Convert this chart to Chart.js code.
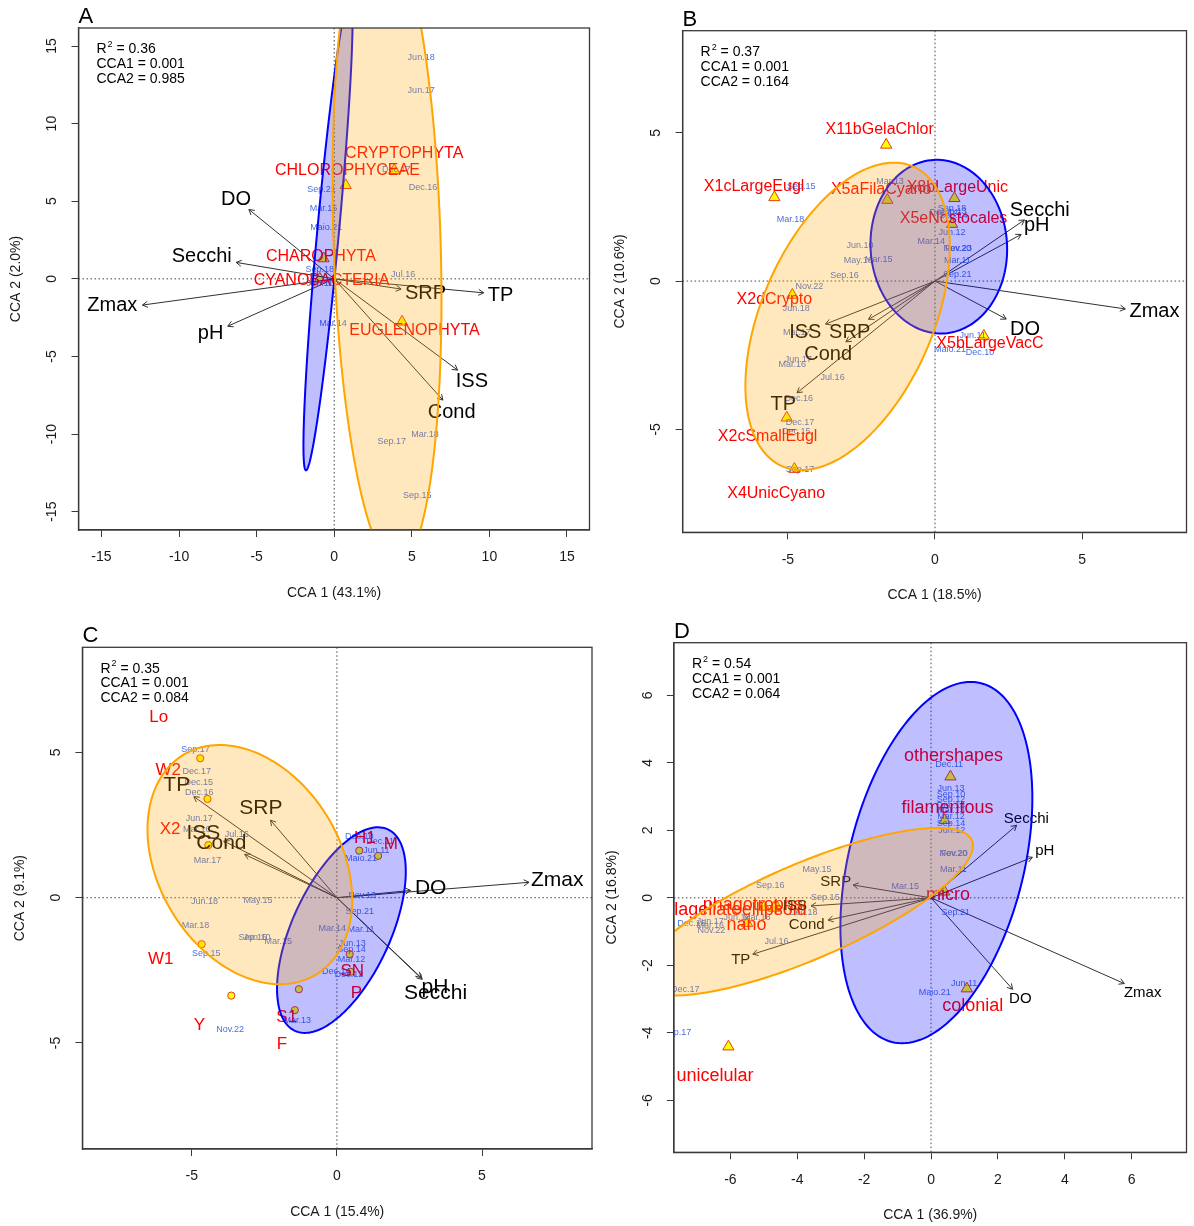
<!DOCTYPE html>
<html>
<head>
<meta charset="utf-8">
<script src="https://cdn.jsdelivr.net/npm/chart.js@4.4.1/dist/chart.umd.min.js"></script>
<style>
  body { margin: 0; background: #fff; }
  #wrap { position: relative; width: 1194px; height: 1226px; }
  canvas { position: absolute; }
</style>
</head>
<body>
<div id="wrap">
  <canvas id="cA" width="597" height="610" style="left:0;top:0"></canvas>
  <canvas id="cB" width="597" height="610" style="left:597px;top:0"></canvas>
  <canvas id="cC" width="597" height="613" style="left:0;top:613px"></canvas>
  <canvas id="cD" width="597" height="613" style="left:597px;top:613px"></canvas>
</div>
<script>
// ---------- Panel A ----------
const xTicksA = [-15, -10, -5, 0, 5, 10, 15];
const yTicksA = [-15, -10, -5, 0, 5, 10, 15];
const statsA = ['0.36', '0.001', '0.985'];
const envNamesA = ['DO', 'Secchi', 'Zmax', 'pH', 'SRP', 'TP', 'ISS', 'Cond'];
const envXA = [-5.5, -6.32, -12.36, -6.86, 4.31, 9.63, 7.95, 7.0];
const envYA = [4.47, 1.06, -1.69, -3.05, -0.66, -0.9, -5.88, -7.81];
const envLabXA = [-6.33, -8.54, -14.3, -7.97, 5.88, 10.72, 8.87, 7.57];
const envLabYA = [5.11, 1.42, -1.69, -3.52, -0.94, -1.05, -6.63, -8.6];
const sppNamesA = ['CRYPTOPHYTA', 'CHLOROPHYCEAE', 'CHAROPHYTA', 'CYANOBACTERIA', 'EUGLENOPHYTA'];
const sppXA = [3.87, 0.74, -0.69, -0.93, 4.37];
const sppYA = [7.0, 6.03, 1.31, 0.0, -2.77];
const sppLabXA = [4.51, 0.85, -0.86, -0.82, 5.17];
const sppLabYA = [8.07, 6.95, 1.42, -0.13, -3.35];
const sampNamesA = ['Jun.18', 'Jun.17', 'Dec.17', 'Dec.16', 'Sep.21', 'Mar.15', 'Maio.21', 'Jul.16',
  'Sep.18', 'Jun.11', 'Mar.14', 'Sep.17', 'Mar.18', 'Sep.15'];
const sampXA = [5.6, 5.6, 4.0, 5.72, -0.82, -0.69, -0.52, 4.44, -0.93, -0.93, -0.08, 3.7, 5.85, 5.35];
const sampYA = [14.27, 12.15, 7.06, 5.88, 5.75, 4.53, 3.31, 0.26, 0.62, -0.3, -2.87, -10.45, -10.06, -13.93];
const ellBlueA = [-0.4, 3, 15.4, 0.7, 84.7];     // cx, cy, a, b, angle
const ellOrangeA = [3.4, 2.5, 21, 3.45, 91.8];

// ---------- Panel B ----------
const xTicksB = [-5, 0, 5];
const yTicksB = [-5, 0, 5];
const statsB = ['0.37', '0.001', '0.164'];
const envNamesB = ['Secchi', 'pH', 'Zmax', 'DO', 'ISS', 'SRP', 'Cond', 'TP'];
const envXB = [3.04, 2.93, 6.47, 2.42, -3.72, -2.26, -3.03, -4.69];
const envYB = [2.06, 1.57, -0.94, -1.28, -1.45, -1.29, -2.05, -3.77];
const envLabXB = [3.56, 3.46, 7.46, 3.06, -4.41, -2.9, -3.63, -5.16];
const envLabYB = [2.37, 1.89, -1.01, -1.63, -1.74, -1.74, -2.46, -4.15];
const sppNamesB = ['X11bGelaChlor', 'X1cLargeEugl', 'X5aFilaCyano', 'X8bLargeUnic', 'X5eNostocales',
  'X2dCrypto', 'X5bLargeVacC', 'X2cSmallEugl', 'X4UnicCyano'];
const sppXB = [-1.66, -5.46, -1.62, 0.66, 0.58, -4.85, 1.66, -5.04, -4.78];
const sppYB = [4.59, 2.82, 2.73, 2.79, 1.92, -0.47, -1.85, -4.61, -6.34];
const sppLabXB = [-1.88, -6.15, -1.83, 0.76, 0.63, -5.46, 1.87, -5.69, -5.4];
const sppLabYB = [5.12, 3.18, 3.07, 3.15, 2.11, -0.62, -2.1, -5.23, -7.18];
const sampNamesB = ['Sep.15', 'Mar.18', 'Mar.13', 'Jun.10', 'May.16', 'Mar.15', 'Sep.16', 'Nov.22', 'Mar.14',
  'Sep.18', 'Jun.13', 'Dec.14', 'Sep.14', 'Jun.12', 'Nov.20', 'Fev.23', 'Mar.11', 'Sep.21',
  'Jun.18', 'Mar.17', 'Jun.17', 'Mar.16', 'Jul.16', 'Dec.16', 'Dec.17', 'Dec.15', 'Sep.17',
  'Jun.11', 'Maio.21', 'Dec.10'];
const sampXB = [-4.55, -4.91, -1.53, -2.55, -2.61, -1.91, -3.08, -4.27, -0.13,
  0.58, 0.62, 0.3, 0.62, 0.58, 0.76, 0.8, 0.76, 0.76,
  -4.72, -4.7, -4.65, -4.85, -3.48, -4.63, -4.59, -4.72, -4.59,
  1.28, 0.51, 1.53];
const sampYB = [3.18, 2.09, 3.35, 1.19, 0.68, 0.73, 0.17, -0.19, 1.34,
  2.45, 2.35, 2.3, 2.2, 1.64, 1.1, 1.1, 0.68, 0.22,
  -0.94, -1.74, -2.64, -2.83, -3.25, -3.96, -4.78, -5.08, -6.35,
  -1.85, -2.3, -2.42];
const ellBlueB = [0.13, 1.16, 2.93, 2.32, 93.7];
const ellOrangeB = [-2.97, -1.19, 5.52, 2.91, 66.1];

// ---------- Panel C ----------
const xTicksC = [-5, 0, 5];
const yTicksC = [-5, 0, 5];
const statsC = ['0.35', '0.001', '0.084'];
const envNamesC = ['TP', 'SRP', 'ISS', 'Cond', 'DO', 'Zmax', 'pH', 'Secchi'];
const envXC = [-4.93, -2.29, -3.9, -3.18, 2.54, 6.62, 2.94, 2.9];
const envYC = [3.48, 2.67, 1.95, 1.49, 0.25, 0.53, -2.81, -2.75];
const envLabXC = [-5.52, -2.62, -4.6, -3.98, 3.23, 7.59, 3.38, 3.4];
const envLabYC = [3.88, 3.08, 2.22, 1.89, 0.32, 0.59, -3.08, -3.27];
const siteNamesC = ['Lo', 'W2', 'X2', 'W1', 'Y', 'F', 'S1', 'P', 'SN', 'H1', 'M'];
const siteLabXC = [-6.14, -5.81, -5.75, -6.07, -4.74, -1.89, -1.73, 0.67, 0.53, 0.96, 1.86];
const siteLabYC = [6.21, 4.4, 2.35, -2.12, -4.38, -5.05, -4.13, -3.29, -2.55, 2.04, 1.85];
const sitePtXC = [-4.71, -4.46, -4.43, -4.66, -3.64, -1.31, -1.45, 0.44, 0.47, 0.77, 1.42];
const sitePtYC = [4.8, 3.4, 1.81, -1.6, -3.37, -3.15, -3.87, -1.94, -2.55, 1.62, 1.44];
const sampNamesC = ['Sep.17', 'Dec.17', 'Dec.15', 'Dec.16', 'Jun.17', 'Mar.16', 'Jul.16', 'Mar.17', 'Jun.18',
  'May.15', 'Mar.18', 'Sep.16', 'Jun.10', 'Mar.15', 'Sep.15', 'Nov.22', 'Mar.13', 'Mar.14', 'Mar.11',
  'Sep.21', 'Nov.13', 'Jun.13', 'Sep.14', 'Mar.12', 'Dec.14', 'Dec.12', 'Dec.10', 'Dec.11', 'Jun.11', 'Maio.21'];
const sampXC = [-4.87, -4.83, -4.76, -4.74, -4.74, -4.83, -3.45, -4.46, -4.56,
  -2.72, -4.87, -2.9, -2.75, -2.02, -4.5, -3.68, -1.37, -0.16, 0.83,
  0.79, 0.87, 0.53, 0.5, 0.5, -0.02, 0.42, 0.77, 1.49, 1.36, 0.83];
const sampYC = [5.11, 4.34, 3.96, 3.61, 2.71, 2.35, 2.16, 1.27, -0.14,
  -0.08, -0.97, -1.36, -1.36, -1.51, -1.91, -4.55, -4.21, -1.05, -1.09,
  -0.48, 0.06, -1.57, -1.77, -2.12, -2.55, -2.66, 2.1, 1.93, 1.64, 1.36];
const ellBlueC = [0.155, -1.115, 3.82, 1.69, 65.2];
const ellOrangeC = [-3.0, 1.14, 4.42, 3.14, 121.1];

// ---------- Panel D ----------
const xTicksD = [-6, -4, -2, 0, 2, 4, 6];
const yTicksD = [-6, -4, -2, 0, 2, 4, 6];
const statsD = ['0.54', '0.001', '0.064'];
const envNamesD = ['Secchi', 'pH', 'SRP', 'ISS', 'Cond', 'TP', 'DO', 'Zmax'];
const envXD = [2.56, 3.03, -2.33, -3.59, -3.08, -5.33, 2.44, 5.78];
const envYD = [2.15, 1.2, 0.38, -0.24, -0.66, -1.67, -2.71, -2.54];
const envLabXD = [2.85, 3.4, -2.85, -4.07, -3.72, -5.69, 2.67, 6.33];
const envLabYD = [2.35, 1.39, 0.46, -0.25, -0.81, -1.83, -2.98, -2.83];
const sppNamesD = ['othershapes', 'filamentous', 'micro', 'phagotrophs', 'flagellate', 'ellipsoid',
  'nano', 'colonial', 'unicelular'];
const sppXD = [0.58, 0.41, 0.4, -4.64, -4.99, -4.7, -5.5, 1.07, -6.06];
const sppYD = [3.59, 2.3, 0.18, -0.22, -0.27, -0.3, -0.75, -2.69, -4.41];
const sppLabXD = [0.67, 0.49, 0.51, -5.33, -6.75, -4.69, -5.52, 1.25, -6.46];
const sppLabYD = [4.2, 2.67, 0.08, -0.22, -0.36, -0.36, -0.81, -3.21, -5.27];
const sampNamesD = ['Dec.11', 'Jun.13', 'Sep.10', 'Sep.12', 'Dec.14', 'Mar.13', 'Mar.12', 'Sep.14', 'Jun.12',
  'Nov.20', 'Fev.20', 'Mar.11', 'Mar.15', 'Sep.21', 'May.15', 'Sep.16', 'Sep.15', 'Dec.18', 'Mar.18',
  'Jun.18', 'Jun.17', 'Dec.16', 'Mar.16', 'Nov.22', 'Jul.16', 'Dec.17', 'Sep.17', 'Jun.11', 'Maio.21'];
const sampXD = [0.54, 0.6, 0.6, 0.6, 0.6, 0.6, 0.6, 0.6, 0.62,
  0.67, 0.7, 0.67, -0.77, 0.74, -3.41, -4.81, -3.16, -3.82, -5.21,
  -5.8, -6.6, -7.16, -6.6, -6.57, -4.62, -7.35, -7.6, 0.99, 0.11];
const sampYD = [3.96, 3.24, 3.05, 2.9, 2.75, 2.6, 2.4, 2.2, 2.0,
  1.32, 1.3, 0.84, 0.35, -0.44, 0.84, 0.36, 0.0, -0.44, -0.58,
  -0.58, -0.7, -0.76, -0.83, -0.98, -1.3, -2.71, -4.0, -2.54, -2.8];
const ellBlueD = [0.16, 1.045, 5.48, 2.62, 75.9];
const ellOrangeD = [-3.75, -0.41, 5.4, 1.42, 23];

const FONT = '"Liberation Sans", Arial, Helvetica, sans-serif';
Chart.defaults.font.family = FONT;

// panel set-up: area = [left, top, right, bottom] inside its canvas
const panels = {
  cA: { letter: 'A', W: 597, H: 610, area: [78.5, 28, 590, 530], xr: [-16.48, 16.45], yr: [-16.18, 16.16],
    xt: xTicksA, yt: yTicksA, stats: statsA, xTitle: 'CCA 1 (43.1%)', yTitle: 'CCA 2 (2.0%)',
    envN: envNamesA, envX: envXA, envY: envYA, envLX: envLabXA, envLY: envLabYA, envFont: 20,
    sppN: sppNamesA, sppLX: sppLabXA, sppLY: sppLabYA, sppFont: 16,
    ptX: sppXA, ptY: sppYA, ptStyle: 'triangle', ptR: 6.5,
    smpN: sampNamesA, smpX: sampXA, smpY: sampYA,
    blue: ellBlueA, orange: ellOrangeA },
  cB: { letter: 'B', W: 597, H: 610, area: [85.6, 30.7, 594, 532.3], xr: [-8.58, 8.55], yr: [-8.47, 8.44],
    xt: xTicksB, yt: yTicksB, stats: statsB, xTitle: 'CCA 1 (18.5%)', yTitle: 'CCA 2 (10.6%)',
    envN: envNamesB, envX: envXB, envY: envYB, envLX: envLabXB, envLY: envLabYB, envFont: 20,
    sppN: sppNamesB, sppLX: sppLabXB, sppLY: sppLabYB, sppFont: 16,
    ptX: sppXB, ptY: sppYB, ptStyle: 'triangle', ptR: 6.5,
    smpN: sampNamesB, smpX: sampXB, smpY: sampYB,
    blue: ellBlueB, orange: ellOrangeB },
  cC: { letter: 'C', W: 597, H: 613, area: [82.4, 34.3, 593.9, 536], xr: [-8.77, 8.79], yr: [-8.65, 8.62],
    xt: xTicksC, yt: yTicksC, stats: statsC, xTitle: 'CCA 1 (15.4%)', yTitle: 'CCA 2 (9.1%)',
    envN: envNamesC, envX: envXC, envY: envYC, envLX: envLabXC, envLY: envLabYC, envFont: 21,
    sppN: siteNamesC, sppLX: siteLabXC, sppLY: siteLabYC, sppFont: 17,
    ptX: sitePtXC, ptY: sitePtYC, ptStyle: 'circle', ptR: 3.6,
    smpN: sampNamesC, smpX: sampXC, smpY: sampYC,
    blue: ellBlueC, orange: ellOrangeC },
  cD: { letter: 'D', W: 597, H: 613, area: [76.9, 29.7, 594, 539.3], xr: [-7.69, 7.64], yr: [-7.54, 7.56],
    xt: xTicksD, yt: yTicksD, stats: statsD, xTitle: 'CCA 1 (36.9%)', yTitle: 'CCA 2 (16.8%)',
    envN: envNamesD, envX: envXD, envY: envYD, envLX: envLabXD, envLY: envLabYD, envFont: 15,
    sppN: sppNamesD, sppLX: sppLabXD, sppLY: sppLabYD, sppFont: 18,
    ptX: sppXD, ptY: sppYD, ptStyle: 'triangle', ptR: 6.5,
    smpN: sampNamesD, smpX: sampXD, smpY: sampYD,
    blue: ellBlueD, orange: ellOrangeD }
};

function ellipsePath(ctx, x, y, e) {
  const th = e[4] * Math.PI / 180;
  ctx.beginPath();
  for (let k = 0; k <= 160; k++) {
    const t = k / 160 * 2 * Math.PI;
    const dx = e[2] * Math.cos(t) * Math.cos(th) - e[3] * Math.sin(t) * Math.sin(th);
    const dy = e[2] * Math.cos(t) * Math.sin(th) + e[3] * Math.sin(t) * Math.cos(th);
    const px = x.getPixelForValue(e[0] + dx), py = y.getPixelForValue(e[1] + dy);
    if (k) ctx.lineTo(px, py); else ctx.moveTo(px, py);
  }
  ctx.closePath();
}

function drawLabels(ctx, x, y, names, xs, ys, size, color) {
  ctx.font = size + 'px ' + FONT;
  ctx.fillStyle = color;
  ctx.textAlign = 'center';
  ctx.textBaseline = 'middle';
  names.forEach((n, i) => ctx.fillText(n, x.getPixelForValue(xs[i]), y.getPixelForValue(ys[i])));
}

const rplot = {
  id: 'rplot',
  beforeDatasetsDraw(chart) {
    const { ctx, chartArea: a, scales: { x, y } } = chart;
    ctx.save();
    ctx.strokeStyle = '#444';
    ctx.lineWidth = 1;
    ctx.setLineDash([1.5, 2.5]);
    const x0 = x.getPixelForValue(0), y0 = y.getPixelForValue(0);
    ctx.beginPath();
    ctx.moveTo(x0, a.top); ctx.lineTo(x0, a.bottom);
    ctx.moveTo(a.left, y0); ctx.lineTo(a.right, y0);
    ctx.stroke();
    ctx.restore();
  },
  afterDatasetsDraw(chart) {
    const P = panels[chart.canvas.id];
    const { ctx, chartArea: a, scales: { x, y } } = chart;
    ctx.save();
    ctx.beginPath();
    ctx.rect(a.left, a.top, a.right - a.left, a.bottom - a.top);
    ctx.clip();

    // arrow heads
    ctx.strokeStyle = '#303030';
    ctx.lineWidth = 1;
    const x0 = x.getPixelForValue(0), y0 = y.getPixelForValue(0);
    P.envX.forEach((ex, i) => {
      const x1 = x.getPixelForValue(ex), y1 = y.getPixelForValue(P.envY[i]);
      const ang = Math.atan2(y1 - y0, x1 - x0), len = 6;
      ctx.beginPath();
      ctx.moveTo(x1 - len * Math.cos(ang - Math.PI / 6), y1 - len * Math.sin(ang - Math.PI / 6));
      ctx.lineTo(x1, y1);
      ctx.lineTo(x1 - len * Math.cos(ang + Math.PI / 6), y1 - len * Math.sin(ang + Math.PI / 6));
      ctx.stroke();
    });

    drawLabels(ctx, x, y, P.smpN, P.smpX, P.smpY, 9, '#4a6ee0');
    drawLabels(ctx, x, y, P.sppN, P.sppLX, P.sppLY, P.sppFont, '#ff0000');
    drawLabels(ctx, x, y, P.envN, P.envLX, P.envLY, P.envFont, '#000000');

    // group ellipses on top
    ctx.lineWidth = 2;
    ellipsePath(ctx, x, y, P.blue);
    ctx.fillStyle = 'rgba(0,0,255,0.25)';
    ctx.fill();
    ctx.strokeStyle = '#0000ff';
    ctx.stroke();
    ellipsePath(ctx, x, y, P.orange);
    ctx.fillStyle = 'rgba(255,165,0,0.26)';
    ctx.fill();
    ctx.strokeStyle = '#ffa500';
    ctx.stroke();
    ctx.restore();

    // plot box
    ctx.save();
    ctx.strokeStyle = '#3a3a3a';
    ctx.lineWidth = 1.3;
    ctx.strokeRect(a.left, a.top, a.right - a.left, a.bottom - a.top);
    ctx.restore();
  },
  afterDraw(chart) {
    const P = panels[chart.canvas.id];
    const { ctx, chartArea: a, scales: { x, y } } = chart;
    ctx.save();
    ctx.fillStyle = '#1a1a1a';
    ctx.textAlign = 'center';
    ctx.textBaseline = 'middle';
    ctx.font = '14px ' + FONT;
    P.xt.forEach(v => ctx.fillText(String(v), x.getPixelForValue(v), a.bottom + 27.5));
    P.yt.forEach(v => {
      ctx.save();
      ctx.translate(a.left - 26, y.getPixelForValue(v));
      ctx.rotate(-Math.PI / 2);
      ctx.fillText(String(v), 0, 0);
      ctx.restore();
    });
    ctx.fillText(P.xTitle, (a.left + a.right) / 2, a.bottom + 63);
    ctx.save();
    ctx.translate(a.left - 62, (a.top + a.bottom) / 2);
    ctx.rotate(-Math.PI / 2);
    ctx.fillText(P.yTitle, 0, 0);
    ctx.restore();

    // panel letter
    ctx.fillStyle = '#000';
    ctx.textAlign = 'left';
    ctx.font = '22px ' + FONT;
    ctx.fillText(P.letter, a.left, a.top - 11);

    // fit statistics
    ctx.font = '14px ' + FONT;
    const lx = a.left + 18;
    ctx.fillText('R', lx, a.top + 21.5);
    const rw = ctx.measureText('R').width;
    ctx.font = '9px ' + FONT;
    ctx.fillText('2', lx + rw + 1, a.top + 16.5);
    ctx.font = '14px ' + FONT;
    ctx.fillText(' = ' + P.stats[0], lx + rw + 6, a.top + 21.5);
    ctx.fillText('CCA1 = ' + P.stats[1], lx, a.top + 36);
    ctx.fillText('CCA2 = ' + P.stats[2], lx, a.top + 51);
    ctx.restore();
  }
};

function buildChart(id) {
  const P = panels[id];
  const datasets = [];
  P.envX.forEach((ex, i) => datasets.push({
    data: [{ x: 0, y: 0 }, { x: ex, y: P.envY[i] }],
    showLine: true,
    borderColor: '#303030',
    borderWidth: 1,
    pointRadius: 0
  }));
  datasets.push({
    data: P.ptX.map((v, i) => ({ x: v, y: P.ptY[i] })),
    pointStyle: P.ptStyle,
    pointRadius: P.ptR,
    backgroundColor: '#ffff00',
    borderColor: '#e8381c',
    borderWidth: 1
  });

  const axisCommon = {
    type: 'linear',
    grid: { display: true, drawOnChartArea: false, drawTicks: true, tickLength: 7, color: '#3a3a3a', lineWidth: 1 },
    border: { display: true, color: '#3a3a3a', width: 1.3 },
    ticks: { color: 'rgba(0,0,0,0)', autoSkip: false, font: { size: 14 } }
  };

  new Chart(document.getElementById(id), {
    type: 'scatter',
    data: { datasets },
    options: {
      responsive: false,
      animation: false,
      events: [],
      layout: { padding: { left: 0, top: P.area[1], right: P.W - P.area[2], bottom: 0 } },
      plugins: { legend: { display: false }, tooltip: { enabled: false } },
      scales: {
        x: Object.assign({}, axisCommon, {
          position: 'bottom', min: P.xr[0], max: P.xr[1],
          afterBuildTicks: s => { s.ticks = P.xt.map(v => ({ value: v })); },
          afterFit: s => { s.height = P.H - P.area[3]; }
        }),
        y: Object.assign({}, axisCommon, {
          position: 'left', min: P.yr[0], max: P.yr[1],
          afterBuildTicks: s => { s.ticks = P.yt.map(v => ({ value: v })); },
          afterFit: s => { s.width = P.area[0]; }
        })
      }
    },
    plugins: [rplot]
  });
}

['cA', 'cB', 'cC', 'cD'].forEach(buildChart);
</script>
</body>
</html>
